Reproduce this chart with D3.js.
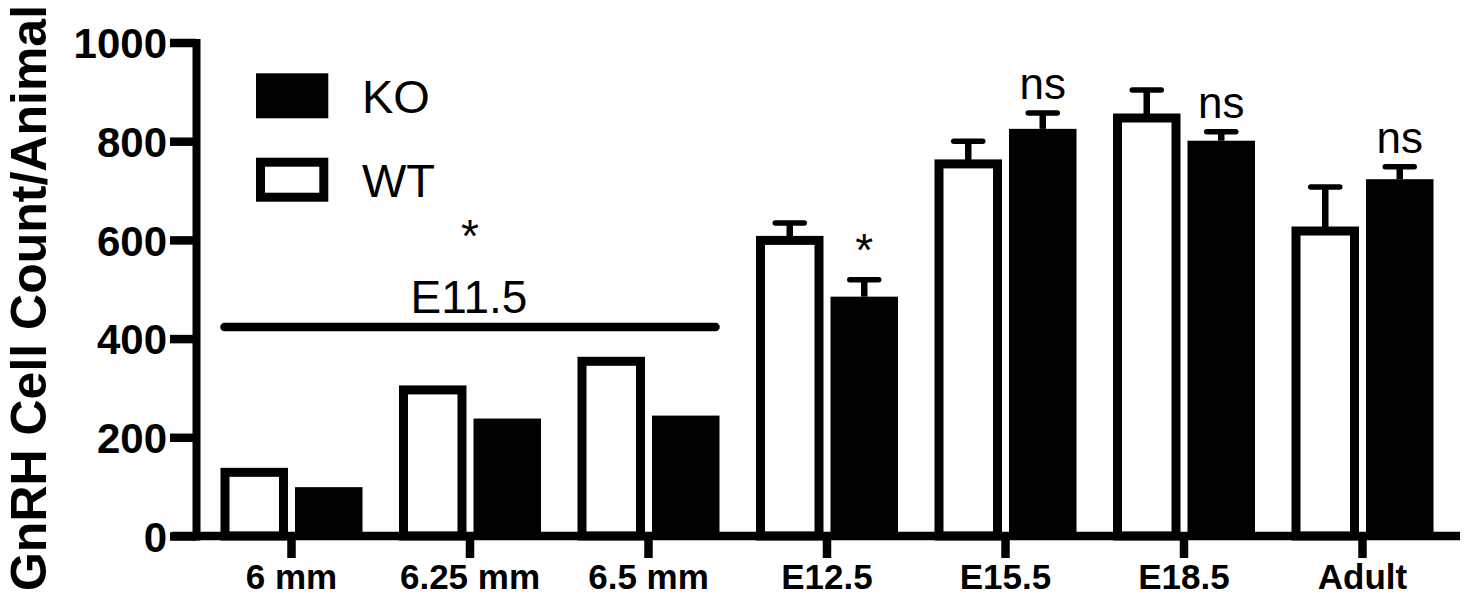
<!DOCTYPE html>
<html>
<head>
<meta charset="utf-8">
<script src="https://cdn.jsdelivr.net/npm/d3@7"></script>
<style>
  html, body { margin: 0; padding: 0; background: #fff; }
  svg { display: block; }
  text { font-family: "Liberation Sans", Arial, Helvetica, sans-serif; fill: #000; }
</style>
</head>
<body>
<svg id="chart" width="1469" height="597"></svg>
<script>
// ---- data ----
const categories = ["6 mm", "6.25 mm", "6.5 mm", "E12.5", "E15.5", "E18.5", "Adult"];
const series = ["WT", "KO"];
const wtValues = [129, 296, 354, 599, 754, 847, 618];
const koValues = [99, 238, 244, 485, 825, 801, 723];
const wtErrors = [null, null, null, 35, 46, 57, 89];
const koErrors = [null, null, null, 34, 32, 18, 25];
const yTicks = [0, 200, 400, 600, 800, 1000];
const legendItems = ["KO", "WT"];
// significance labels placed above KO error bars
const koAnnotations = [null, null, null, "*", "ns", "ns", "ns"];
const groupLabel = "E11.5";
const groupMembers = ["6 mm", "6.25 mm", "6.5 mm"];
const groupStar = "*";
const yTitle = "GnRH Cell Count/Animal";

// ---- layout ----
const svg = d3.select("#chart");
const baseY = 536, topY = 42.5;
const y = d3.scaleLinear().domain([0, 1000]).range([baseY, topY]);
const x = d3.scaleBand().domain(categories).range([202.25, 1451.75]).paddingInner(0).paddingOuter(0);
const center = c => x(c) + x.bandwidth() / 2;
const inner = d3.scaleBand().domain(series).range([-71, 71]).paddingInner(0.094);

const WT_STROKE = 9;

const rows = categories.map((c, i) => ({ c, wt: wtValues[i], ko: koValues[i], wtE: wtErrors[i], koE: koErrors[i], ann: koAnnotations[i] }));

// error bars (drawn first so bars cover the stem inside)
function errorBar(sel, cx, v, e) {
  sel.append("line")
    .attr("x1", cx).attr("x2", cx)
    .attr("y1", y(v)).attr("y2", y(v + e))
    .attr("stroke", "#000").attr("stroke-width", 6.5);
  sel.append("line")
    .attr("x1", cx - 14.5).attr("x2", cx + 14.5)
    .attr("y1", y(v + e)).attr("y2", y(v + e))
    .attr("stroke", "#000").attr("stroke-width", 5.5)
    .attr("stroke-linecap", "round");
}
const eg = svg.append("g");
rows.forEach(r => {
  if (r.wtE != null) errorBar(eg, center(r.c) + inner("WT") + inner.bandwidth() / 2, r.wt, r.wtE);
  if (r.koE != null) errorBar(eg, center(r.c) + inner("KO") + inner.bandwidth() / 2, r.ko, r.koE);
});

svg.append("g").selectAll("rect.wt").data(rows).join("rect")
  .attr("class", "wt")
  .attr("x", d => center(d.c) + inner("WT") + WT_STROKE / 2)
  .attr("width", inner.bandwidth() - WT_STROKE)
  .attr("y", d => y(d.wt))
  .attr("height", d => y(0) - y(d.wt))
  .attr("fill", "#fff").attr("stroke", "#000").attr("stroke-width", WT_STROKE);

svg.append("g").selectAll("rect.ko").data(rows).join("rect")
  .attr("class", "ko")
  .attr("x", d => center(d.c) + inner("KO"))
  .attr("width", inner.bandwidth())
  .attr("y", d => y(d.ko))
  .attr("height", d => y(0) - y(d.ko))
  .attr("fill", "#000");

// x axis line
svg.append("line")
  .attr("x1", 172).attr("x2", 1460)
  .attr("y1", baseY).attr("y2", baseY)
  .attr("stroke", "#000").attr("stroke-width", 8.5);

// annotations
svg.append("g").selectAll("text.ann").data(rows.filter(r => r.ann)).join("text")
  .attr("class", "ann")
  .attr("x", d => center(d.c) + inner("KO") + inner.bandwidth() / 2)
  .attr("y", d => y(d.ko + (d.koE || 0)) - 14)
  .attr("text-anchor", "middle")
  .attr("font-size", d => d.ann === "ns" ? 44 : 46)
  .text(d => d.ann);

// E11.5 group bracket
const gx1 = center(groupMembers[0]) + inner("WT");
const gx2 = center(groupMembers[groupMembers.length - 1]) + inner("KO") + inner.bandwidth();
svg.append("line")
  .attr("x1", gx1 + 4).attr("x2", gx2 - 4)
  .attr("y1", 327).attr("y2", 327)
  .attr("stroke", "#000").attr("stroke-width", 8.5).attr("stroke-linecap", "round");
svg.append("text")
  .attr("x", center(groupMembers[1]) - 1).attr("y", 312.7)
  .attr("text-anchor", "middle").attr("font-size", 46)
  .text(groupLabel);
svg.append("text")
  .attr("x", center(groupMembers[1])).attr("y", 252)
  .attr("text-anchor", "middle").attr("font-size", 46)
  .text(groupStar);

// y axis
const yAxis = d3.axisLeft(y).tickValues(yTicks).tickFormat(d3.format("d")).tickSize(26).tickPadding(3).tickSizeOuter(0);
const yg = svg.append("g").attr("transform", "translate(196,0)").call(yAxis);
yg.select(".domain").attr("stroke-width", 8).attr("stroke-linecap", "square");
yg.selectAll(".tick line").attr("stroke-width", 8.5);
yg.selectAll(".tick text").attr("font-size", 42).attr("font-weight", "bold")
  .attr("dy", "0.36em")
  .style("font-family", "'Liberation Sans', Arial, sans-serif");

// x axis ticks
const xAxis = d3.axisBottom(x).tickSize(22).tickPadding(6.6).tickSizeOuter(0);
const xg = svg.append("g").attr("transform", `translate(0,${baseY})`).call(xAxis);
xg.select(".domain").remove();
xg.selectAll(".tick line").attr("stroke-width", 8.5);
xg.selectAll(".tick text").attr("font-size", 35).attr("font-weight", "bold")
  .style("font-family", "'Liberation Sans', Arial, sans-serif");

// y title
svg.append("text")
  .attr("transform", "translate(45.5,298) rotate(-90)")
  .attr("text-anchor", "middle")
  .attr("font-size", 50).attr("font-weight", "bold")
  .text(yTitle);

// legend
const legend = svg.append("g");
const legendY = [73.3, 157.7];
legendItems.forEach((name, i) => {
  if (name === "KO") {
    legend.append("rect").attr("x", 256).attr("y", legendY[i]).attr("width", 72.3).attr("height", 45).attr("fill", "#000");
  } else {
    legend.append("rect").attr("x", 256 + 4.5).attr("y", legendY[i] + 4.5).attr("width", 72.3 - 9).attr("height", 44 - 9)
      .attr("fill", "#fff").attr("stroke", "#000").attr("stroke-width", 9);
  }
  legend.append("text").attr("x", 362).attr("y", legendY[i] + 39.2).attr("font-size", 47).text(name);
});
</script>
</body>
</html>
